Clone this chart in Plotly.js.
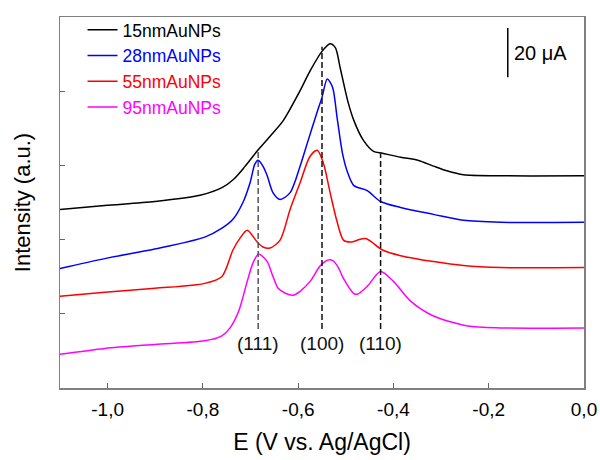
<!DOCTYPE html>
<html>
<head>
<meta charset="utf-8">
<script src="https://cdn.plot.ly/plotly-3.0.1.min.js"></script>
<style>html,body{margin:0;padding:0;background:#fff;}#chart{width:600px;height:460px;}</style>
</head>
<body>
<div id="chart"></div>
<script>
// Series names and colours
const seriesNames = ['15nmAuNPs', '28nmAuNPs', '55nmAuNPs', '95nmAuNPs'];
const seriesColors = ['#000000', '#0000ff', '#ff0000', '#ff00ff'];

// 15 nm AuNPs (E in V, current offset in µA)
const x15 = [-1.10, -1.006, -0.901, -0.806, -0.760, -0.736, -0.712, -0.684, -0.658, -0.631, -0.596, -0.575, -0.550, -0.533, -0.522, -0.512, -0.496, -0.483, -0.463, -0.442, -0.423, -0.385, -0.349, -0.316, -0.288, -0.253, -0.175, 0.0];
const y15 = [72.2, 73.8, 75.4, 77.9, 81.0, 84.3, 89.5, 96.3, 102.0, 108.2, 120.2, 128.2, 136.1, 139.2, 137.6, 129.6, 116.1, 108.1, 100.1, 95.7, 94.9, 93.3, 92.1, 89.7, 87.8, 86.2, 85.8, 85.8];

// 28 nm AuNPs
const x28 = [-1.10, -1.006, -0.901, -0.796, -0.760, -0.737, -0.716, -0.701, -0.691, -0.684, -0.674, -0.665, -0.653, -0.638, -0.617, -0.596, -0.581, -0.560, -0.550, -0.539, -0.528, -0.518, -0.507, -0.496, -0.483, -0.455, -0.427, -0.385, -0.316, -0.253, -0.175, 0.0];
const y28 = [48.3, 52.3, 56.2, 61.0, 64.6, 68.2, 75.0, 83.0, 90.5, 92.1, 89.7, 85.8, 79.0, 76.2, 79.0, 89.7, 98.9, 111.7, 117.5, 124.9, 121.7, 108.9, 94.9, 87.0, 81.8, 79.8, 75.4, 73.0, 70.2, 67.8, 67.0, 67.0];

// 55 nm AuNPs
const x55 = [-1.10, -1.006, -0.901, -0.796, -0.760, -0.737, -0.722, -0.707, -0.686, -0.674, -0.659, -0.638, -0.617, -0.596, -0.575, -0.560, -0.547, -0.533, -0.518, -0.505, -0.490, -0.459, -0.423, -0.385, -0.316, -0.253, -0.175, 0.0];
const y55 = [37.1, 38.7, 40.3, 42.3, 45.1, 55.8, 60.6, 63.8, 59.0, 57.0, 56.6, 59.8, 72.2, 83.0, 93.7, 96.1, 90.9, 79.0, 67.0, 59.8, 59.0, 60.4, 55.8, 53.5, 51.1, 49.5, 48.7, 48.7];

// 95 nm AuNPs
const x95 = [-1.10, -1.006, -0.901, -0.796, -0.760, -0.743, -0.725, -0.707, -0.695, -0.683, -0.665, -0.653, -0.642, -0.627, -0.611, -0.596, -0.575, -0.554, -0.538, -0.528, -0.516, -0.505, -0.484, -0.476, -0.455, -0.427, -0.400, -0.364, -0.316, -0.244, -0.175, 0.0];
const y95 = [13.6, 16.0, 17.6, 19.1, 21.1, 24.3, 31.0, 43.1, 50.5, 54.2, 51.1, 45.1, 40.3, 38.3, 37.5, 39.1, 43.1, 49.3, 51.7, 51.6, 48.8, 44.3, 38.3, 37.9, 41.1, 47.1, 43.1, 35.1, 29.1, 25.1, 24.3, 24.3];

// Crystal facet markers
const facetLabels = ['(111)', '(100)', '(110)'];
const facetX = [-0.684, -0.550, -0.427];
const facetTop = [96.3, 138.0, 94.9];
const facetBottom = 23.9;
const facetLabelY = 17.9;

// Scale bar
const scaleBarX = -0.160;
const scaleBarBase = 125.6;
const scaleBarValue = 20;
const scaleBarLabel = '20 μA';

// Axis ticks
const xTickVals = [-1.0, -0.8, -0.6, -0.4, -0.2, 0.0];
const xTickText = ['-1,0', '-0,8', '-0,6', '-0,4', '-0,2', '0,0'];

const font = 'Arial, "Liberation Sans", sans-serif';
const xs = [x15, x28, x55, x95];
const ys = [y15, y28, y55, y95];

const traces = seriesNames.map((n, i) => ({
  x: xs[i], y: ys[i], type: 'scatter', mode: 'lines',
  name: '<span style="color:' + seriesColors[i] + '">' + n + '</span>',
  line: {color: seriesColors[i], width: 1.5, shape: 'spline', smoothing: 0.8},
  hoverinfo: 'skip'
}));

const shapes = facetX.map((fx, i) => ({
  type: 'line', xref: 'x', yref: 'y', x0: fx, x1: fx, y0: facetBottom, y1: facetTop[i],
  line: {color: i === 0 ? '#555555' : '#111111', width: 1.5, dash: '6px,3px'}
}));
shapes.push({
  type: 'line', xref: 'x', yref: 'y', x0: scaleBarX, x1: scaleBarX,
  y0: scaleBarBase, y1: scaleBarBase + scaleBarValue,
  line: {color: '#000', width: 1.5}
});

const annotations = facetX.map((fx, i) => ({
  x: fx, y: facetLabelY, xref: 'x', yref: 'y', text: facetLabels[i], showarrow: false,
  xanchor: 'center', yanchor: 'middle', font: {family: font, size: 19, color: '#111'}
}));
annotations.push({
  x: scaleBarX + 0.009, y: scaleBarBase + scaleBarValue / 2, xref: 'x', yref: 'y',
  text: scaleBarLabel, showarrow: false, xanchor: 'left', yanchor: 'middle',
  font: {family: font, size: 20, color: '#000'}
});

const layout = {
  width: 600, height: 460,
  margin: {l: 60, r: 16, t: 12, b: 72},
  paper_bgcolor: '#fff', plot_bgcolor: '#fff',
  font: {family: font, color: '#000'},
  showlegend: true,
  legend: {x: 0.043, y: 1.014, xanchor: 'left', yanchor: 'top', bgcolor: 'rgba(0,0,0,0)',
    font: {family: font, size: 17.5}, tracegroupgap: 0, itemwidth: 30},
  xaxis: {
    range: [-1.1, 0.0], tickvals: xTickVals, ticktext: xTickText,
    ticks: 'inside', ticklen: 5, tickwidth: 1, tickcolor: '#666',
    showline: true, linecolor: '#808080', linewidth: 1.5, mirror: true,
    showgrid: false, zeroline: false, ticklabelstandoff: 4,
    tickfont: {family: font, size: 19, color: '#000'},
    title: {text: 'E (V vs. Ag/AgCl)', font: {family: font, size: 23, color: '#000'}, standoff: 14}
  },
  yaxis: {
    range: [0, 150], dtick: 30, tick0: 0, showticklabels: false,
    ticks: 'inside', ticklen: 5, tickwidth: 1, tickcolor: '#666',
    showline: true, linecolor: '#808080', linewidth: 1.5, mirror: true,
    showgrid: false, zeroline: false,
    title: {text: 'Intensity (a.u.)', font: {family: font, size: 22, color: '#000'}, standoff: 22}
  },
  shapes: shapes,
  annotations: annotations
};

Plotly.newPlot('chart', traces, layout, {displayModeBar: false, staticPlot: true});
</script>
</body>
</html>
